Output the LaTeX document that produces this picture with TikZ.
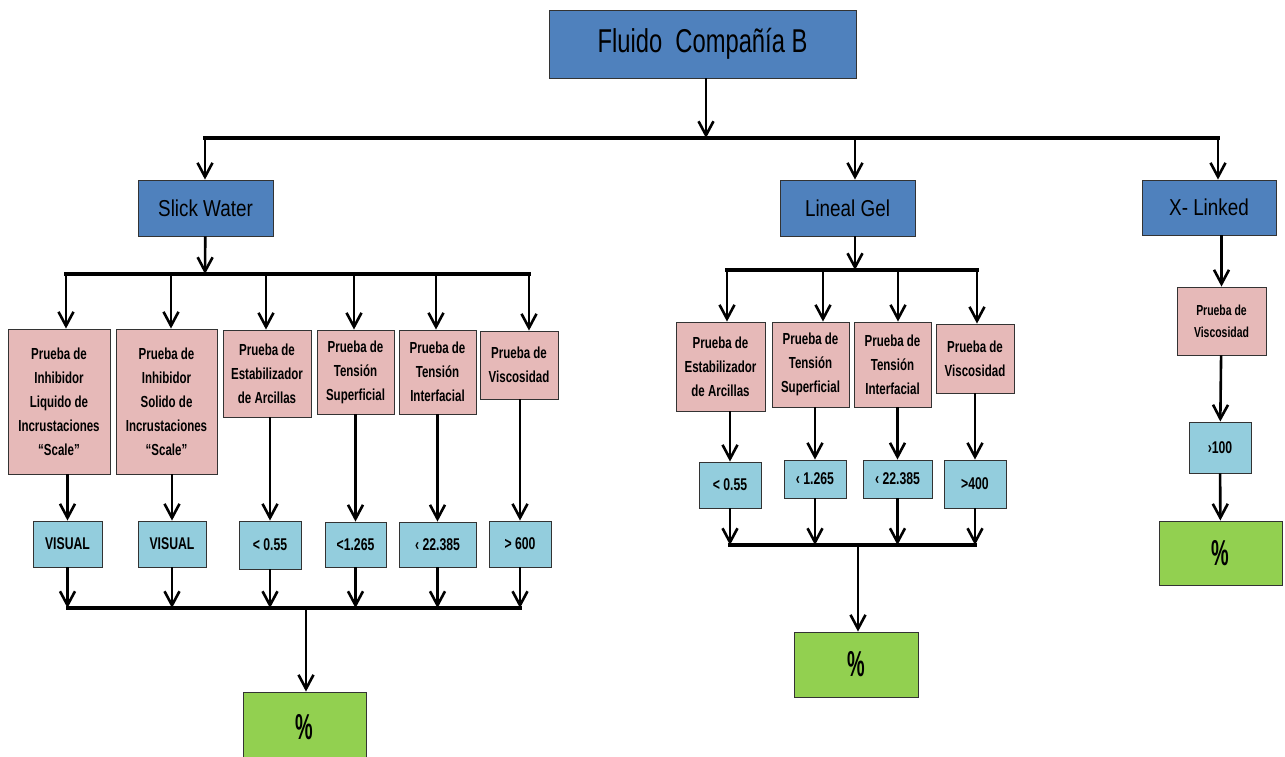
\documentclass[tikz,border=0pt]{standalone}
\usepackage{fontspec}
\setmainfont{Liberation Sans}[FakeStretch=0.82]
\newfontfamily\angosta{Liberation Sans}[FakeStretch=0.72]
\newfontfamily\muyangosta{Liberation Sans}[FakeStretch=0.55]
\usetikzlibrary{arrows.meta}
\definecolor{azul}{HTML}{4F81BD}
\definecolor{rosa}{HTML}{E6B9B8}
\definecolor{celeste}{HTML}{93CDDD}
\definecolor{verde}{HTML}{92D050}
\tikzset{
  caja/.style={draw=black!80, line width=0.9pt, inner sep=0pt, align=center},
  tam/.style 2 args={minimum width=#1pt, minimum height=#2pt},
  tipo/.style={caja, fill=azul, font=\fontsize{23}{26}\selectfont},
  prueba/.style={caja, fill=rosa, font=\angosta\bfseries\fontsize{16}{24}\selectfont},
  valor/.style={caja, fill=celeste, font=\angosta\bfseries\fontsize{17}{20}\selectfont},
  total/.style={caja, fill=verde, font=\muyangosta\bfseries\fontsize{36}{38}\selectfont},
  flecha/.style={line width=2.6pt, -{Straight Barb[length=14pt,width=15pt]}},
  barra/.style={line width=3.6pt, line cap=rect}
}
\begin{document}
\begin{tikzpicture}[x=1pt, y=-1pt]
  \useasboundingbox (0,0) rectangle (1285,756);
  % tipos de fluido
  \node[tipo, tam={307}{68}, font=\angosta\fontsize{33}{36}\selectfont] (fluido) at (702.5,44) {Fluido\ \ Compañía B};
  \node[tipo, tam={135}{56}] (slick) at (205.5,208) {Slick Water};
  \node[tipo, tam={135}{56}] (lineal) at (847.5,208) {Lineal Gel};
  \node[tipo, tam={134}{55}] (xlinked) at (1209,207.5) {X- Linked};
  \coordinate (ba) at (706,138);
  \coordinate (ba1) at (205,138);
  \coordinate (ba2) at (855,138);
  \coordinate (ba3) at (1218,138);
  \draw[barra] (ba1) -- (ba3);
  \draw[flecha] (fluido.south -| ba) -- (ba);
  \draw[flecha] (ba1) -- (ba1 |- slick.north);
  \draw[flecha] (ba2) -- (ba2 |- lineal.north);
  \draw[flecha] (ba3) -- (ba3 |- xlinked.north);

  % Slick Water
  \node[prueba, tam={102}{145}] (p1) at (59,401.5) {Prueba de\\Inhibidor\\Liquido de\\Incrustaciones\\“Scale”};
  \node[prueba, tam={101}{145}] (p2) at (166.5,401.5) {Prueba de\\Inhibidor\\Solido de\\Incrustaciones\\“Scale”};
  \node[prueba, tam={88}{87}] (p3) at (267,373.5) {Prueba de\\Estabilizador\\de Arcillas};
  \node[prueba, tam={77}{84}] (p4) at (355.5,372) {Prueba de\\Tensión\\Superficial};
  \node[prueba, tam={77}{84}] (p5) at (437.5,372) {Prueba de\\Tensión\\Interfacial};
  \node[prueba, tam={78}{68}] (p6) at (519,365) {Prueba de\\Viscosidad};
  \node[valor, tam={69}{46}] (v1) at (67.5,544) {VISUAL};
  \node[valor, tam={68}{46}] (v2) at (172,544) {VISUAL};
  \node[valor, tam={62}{48}] (v3) at (270,545) {< 0.55};
  \node[valor, tam={61}{45}] (v4) at (355.5,544.5) {<1.265};
  \node[valor, tam={77}{45}] (v5) at (437.5,544.5) {‹ 22.385};
  \node[valor, tam={62}{46}] (v6) at (520,544) {> 600};
  \node[total, tam={123}{70}] (g1) at (304.5,727) {\%};
  \coordinate (sa) at (205,274);
  \draw[flecha] (slick) -- (sa);
  \foreach \i/\x in {1/66,2/171,3/266,4/354,5/436,6/529} {
    \coordinate (s\i) at (\x,274);
    \draw[flecha] (s\i) -- (s\i |- p\i.north);
    \draw[flecha] (v\i |- p\i.south) -- (v\i.north);
    \coordinate (t\i) at (v\i |- 0,608);
    \draw[flecha] (v\i) -- (t\i);
  }
  \draw[barra] (s1) -- (s6);
  \draw[barra] (t1) -- (t6);
  \coordinate (tg) at (306,608);
  \draw[flecha] (tg) -- (tg |- g1.north);

  % Lineal Gel
  \node[prueba, tam={89}{89}] (q1) at (720.5,366.5) {Prueba de\\Estabilizador\\de Arcillas};
  \node[prueba, tam={77}{85}] (q2) at (810.5,364.5) {Prueba de\\Tensión\\Superficial};
  \node[prueba, tam={77}{85}] (q3) at (892.5,364.5) {Prueba de\\Tensión\\Interfacial};
  \node[prueba, tam={78}{69}] (q4) at (975,358.5) {Prueba de\\Viscosidad};
  \node[valor, tam={62}{46}] (w1) at (730,485) {< 0.55};
  \node[valor, tam={62}{38}] (w2) at (815,479) {‹ 1.265};
  \node[valor, tam={69}{38}] (w3) at (897.5,479) {‹ 22.385};
  \node[valor, tam={62}{48}] (w4) at (975,484) {>400};
  \node[total, tam={124}{65}] (g2) at (856,664.5) {\%};
  \coordinate (la) at (855,270);
  \draw[flecha] (lineal.south -| la) -- (la);
  \foreach \i/\x in {1/727,2/823,3/898,4/977} {
    \coordinate (l\i) at (\x,270);
    \draw[flecha] (l\i) -- (l\i |- q\i.north);
    \draw[flecha] (w\i |- q\i.south) -- (w\i.north);
    \coordinate (m\i) at (w\i |- 0,545);
    \draw[flecha] (w\i) -- (m\i);
  }
  \draw[barra] (l1) -- (l4);
  \draw[barra] (m1) -- (m4);
  \coordinate (mg) at (858,545);
  \draw[flecha] (mg) -- (mg |- g2.north);

  % X- Linked
  \node[prueba, tam={89}{68}, font=\angosta\bfseries\fontsize{14.5}{22}\selectfont] (r1) at (1221.5,321) {Prueba de\\Viscosidad};
  \node[valor, tam={62}{51}] (u1) at (1220,447.5) {›100};
  \node[total, tam={123}{64}] (g3) at (1220.5,553) {\%};
  \draw[flecha] (r1 |- xlinked.south) -- (r1.north);
  \draw[flecha] (r1) -- (u1);
  \draw[flecha] (u1) -- (g3);
\end{tikzpicture}
\end{document}
